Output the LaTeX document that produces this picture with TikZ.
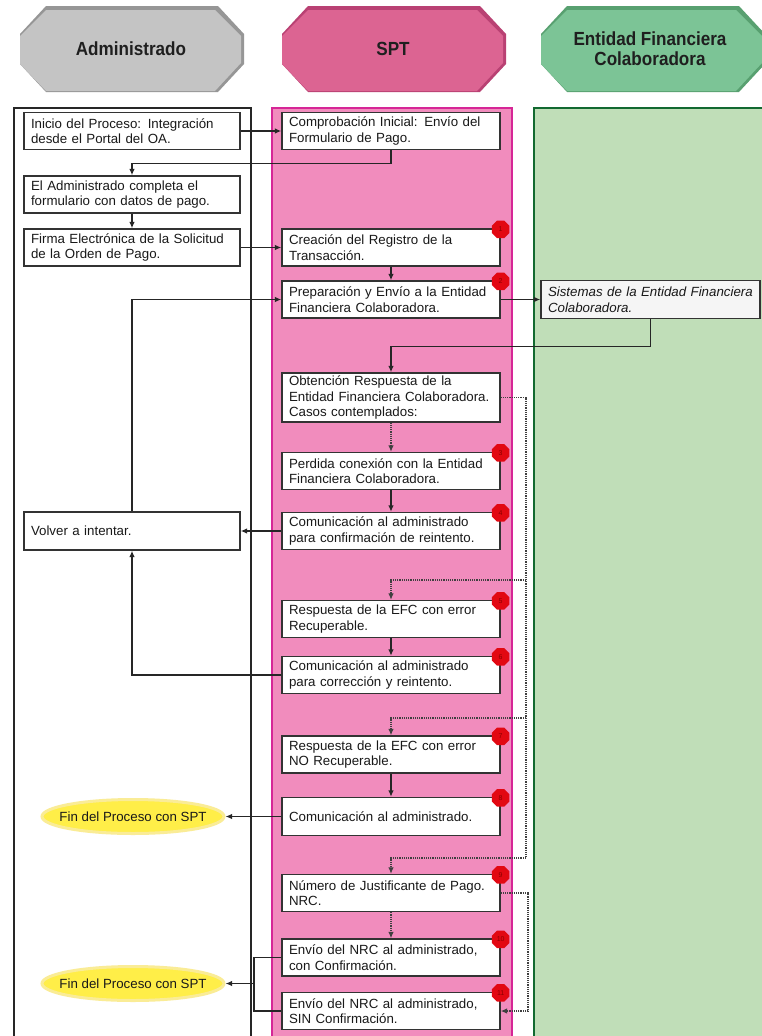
\documentclass[tikz,border=0pt]{standalone}
\usepackage{fontspec}
\setmainfont{Liberation Sans}
\newfontfamily\hdrfont[FakeStretch=0.9]{Liberation Sans}
\usetikzlibrary{arrows.meta,shapes.geometric,calc}
\definecolor{grayface}{RGB}{196,196,196}
\definecolor{graybev}{RGB}{150,150,150}
\definecolor{pinkface}{RGB}{220,100,146}
\definecolor{pinkbev}{RGB}{185,65,115}
\definecolor{greenface}{RGB}{124,196,150}
\definecolor{greenbev}{RGB}{88,160,112}
\definecolor{pinklane}{RGB}{241,140,189}
\definecolor{pinkborder}{RGB}{214,38,150}
\definecolor{greenlane}{RGB}{192,222,184}
\definecolor{greenborder}{RGB}{18,105,48}
\definecolor{badgered}{RGB}{226,8,18}
\definecolor{badgetxt}{RGB}{140,0,0}
\definecolor{endyellow}{RGB}{255,238,72}
\definecolor{endglow}{RGB}{250,236,150}
\newcommand{\hdrpoly}[4]{%
  \fill[#4] (#1+26,6) -- (#2-26,6) -- (#2,34) -- (#2,64) -- (#2-26,92) -- (#1+26,92) -- (#1,64) -- (#1,34) -- cycle;
  \fill[#3] (#1+26,10) -- (#2-29,10) -- (#2-3,36) -- (#2-3,63) -- (#2-29,91) -- (#1+26,91) -- (#1,64) -- (#1,36) -- cycle;
}
\begin{document}
\begin{tikzpicture}[x=1pt,y=-1pt,
  box/.style={draw=black!80, line width=1.3pt, fill=white, inner xsep=7pt, inner ysep=1pt,
    align=left, font=\fontsize{13.3}{15.5}\selectfont, text=black!90},
  abox/.style={box, text width=202pt, minimum height=37pt},
  sbox/.style={box, text width=204pt, minimum height=37pt},
  arr/.style={line width=1.3pt, draw=black!85, -{Latex[length=6.5pt,width=5.5pt]}},
  ln/.style={line width=1.3pt, draw=black!85},
  dotarr/.style={line width=1.2pt, draw=black!75, densely dotted, -{Latex[length=6.5pt,width=5.5pt]}},
  dotln/.style={line width=1.2pt, draw=black!75, densely dotted},
  badge/.style={regular polygon, regular polygon sides=8, fill=badgered, minimum size=19pt,
    inner sep=0pt, font=\fontsize{7}{7}\selectfont, text=badgetxt},
  endnode/.style={ellipse, fill=endyellow, draw=endglow, line width=3pt, minimum width=182pt,
    minimum height=34pt, inner xsep=-30pt, inner ysep=0pt, font=\fontsize{13.3}{15.5}\selectfont, text=black!90},
  hdr/.style={font=\hdrfont\bfseries\fontsize{19}{20}\selectfont, align=center, text=black!88}
]
\useasboundingbox (0,0) rectangle (762,1036);
\fill[white] (0,0) rectangle (762,1036);

% headers
\hdrpoly{20}{244}{grayface}{graybev}
\hdrpoly{282}{506}{pinkface}{pinkbev}
\hdrpoly{541}{765}{greenface}{greenbev}
\node[hdr] (h1) at (131,49) {Administrado};
\node[hdr] (h2) at (393,49) {SPT};
\node[hdr] (h3) at (650,49) {Entidad Financiera\\Colaboradora};

% lanes
\draw[fill=white, draw=black!85, line width=1.2pt] (14,108) rectangle (251,1045);
\draw[fill=pinklane, draw=pinkborder, line width=1.2pt] (272,108) rectangle (512,1045);
\draw[fill=greenlane, draw=greenborder, line width=1.2pt] (534,108) rectangle (775,1045);

% Administrado boxes
\node[abox] (a1) at (132,131) {Inicio del Proceso: Integración\\desde el Portal del OA.};
\node[abox] (a2) at (132,194.5) {El Administrado completa el\\formulario con datos de pago.};
\node[abox] (a3) at (132,247.5) {Firma Electrónica de la Solicitud\\de la Orden de Pago.};
\node[abox, minimum height=38pt] (a4) at (132,531) {Volver a intentar.};
\node[endnode] (e1) at (133,816.5) {Fin del Proceso con SPT};
\node[endnode] (e2) at (133,983.5) {Fin del Proceso con SPT};

% SPT boxes
\node[sbox] (s1) at (391,131) {Comprobación Inicial: Envío del\\Formulario de Pago.};
\node[sbox] (s2) at (391,247.5) {Creación del Registro de la\\Transacción.};
\node[sbox] (s3) at (391,299.5) {Preparación y Envío a la Entidad\\Financiera Colaboradora.};
\node[sbox, minimum height=49pt] (s4) at (391,397.5) {Obtención Respuesta de la\\Entidad Financiera Colaboradora.\\Casos contemplados:};
\node[sbox] (s5) at (391,471) {Perdida conexión con la Entidad\\Financiera Colaboradora.};
\node[sbox] (s6) at (391,531) {Comunicación al administrado\\para confirmación de reintento.};
\node[sbox] (s7) at (391,619) {Respuesta de la EFC con error\\Recuperable.};
\node[sbox] (s8) at (391,675) {Comunicación al administrado\\para corrección y reintento.};
\node[sbox] (s9) at (391,754.5) {Respuesta de la EFC con error\\NO Recuperable.};
\node[sbox, minimum height=38pt] (s10) at (391,816.5) {Comunicación al administrado.};
\node[sbox] (s11) at (391,893) {Número de Justificante de Pago.\\NRC.};
\node[sbox] (s12) at (391,957.5) {Envío del NRC al administrado,\\con Confirmación.};
\node[sbox] (s13) at (391,1011) {Envío del NRC al administrado,\\SIN Confirmación.};

% Green lane box
\node[box, fill=black!4, text width=205pt, minimum height=38pt,
  font=\itshape\fontsize{13.3}{15.5}\selectfont] (g1) at (650.5,299.5) {Sistemas de la Entidad Financiera\\Colaboradora.};

% badges
\node[badge] (b1) at ($(s2.north east)+(0,1)$) {1};
\node[badge] (b2) at ($(s3.north east)+(0,1)$) {2};
\node[badge] (b3) at ($(s5.north east)+(0,1)$) {3};
\node[badge] (b4) at ($(s6.north east)+(0,1)$) {4};
\node[badge] (b5) at ($(s7.north east)+(0,1)$) {5};
\node[badge] (b6) at ($(s8.north east)+(0,1)$) {6};
\node[badge] (b7) at ($(s9.north east)+(0,1)$) {7};
\node[badge] (b8) at ($(s10.north east)+(0,1)$) {8};
\node[badge] (b9) at ($(s11.north east)+(0,1)$) {9};
\node[badge] (b10) at ($(s12.north east)+(0,1)$) {10};
\node[badge] (b11) at ($(s13.north east)+(0,1)$) {11};

% connectors
\draw[arr] (a1.east) -- (s1.west);
\draw[arr] (s1.south) -- ++(0,13) -| (a2.north);
\draw[arr] (a2.south) -- (a3.north);
\draw[arr] (a3.east) -- (s2.west);
\draw[arr] (s2.south) -- (s3.north);
\draw[arr] (a4.north) |- (s3.west);
\draw[arr] (s3.east) -- (g1.west);
\draw[arr] (g1.south) -- ++(0,27) -| (s4.north);
\draw[dotarr] (s4.south) -- (s5.north);
\draw[arr] (s5.south) -- (s6.north);
\draw[arr] (s6.west) -- (a4.east);
\draw[arr] (s7.south) -- (s8.north);
\draw[arr] (s8.west) -| (a4.south);
\draw[arr] (s9.south) -- (s10.north);
\draw[arr] (s10.west) -- (e1.east);
\draw[dotarr] (s11.south) -- (s12.north);

\coordinate (d0) at (526,397.5);
\coordinate (d1) at (526,580);
\coordinate (d2) at (526,718);
\coordinate (d3) at (526,858);
\draw[dotln] (s4.east) -- (d0) -- (d3);
\draw[dotarr] (d1) -| (s7.north);
\draw[dotarr] (d2) -| (s9.north);
\draw[dotarr] (d3) -| (s11.north);

\coordinate (r0) at (528,893);
\coordinate (r1) at (528,1011);
\draw[dotarr] (s11.east) -- (r0) -- (r1) -- (s13.east);

\coordinate (j) at (254,983.5);
\draw[ln] (s12.west) -| (j);
\draw[ln] (s13.west) -| (j);
\draw[arr] (j) -- (e2.east);
\end{tikzpicture}
\end{document}
